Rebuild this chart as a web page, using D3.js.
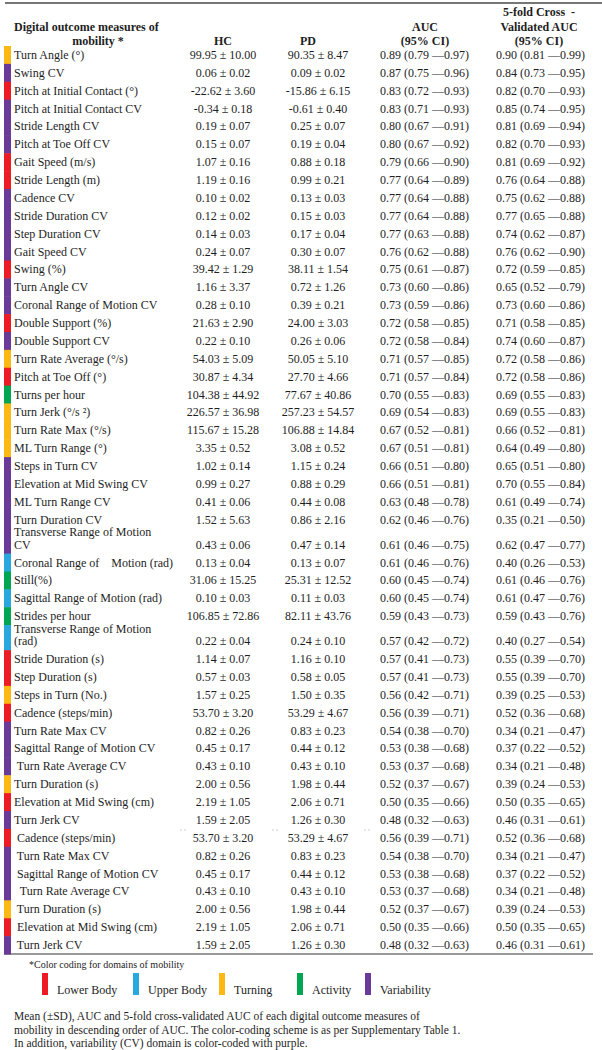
<!DOCTYPE html>
<html><head><meta charset="utf-8">
<script src="https://cdn.jsdelivr.net/npm/d3@7"></script>
<style>
body{margin:0;background:#fff;}
text{font-family:"Liberation Serif","Times New Roman",serif;fill:#1e1e1e;white-space:pre;}
</style></head>
<body><div id="chart"></div>
<script>
const labels = ["Turn Angle (°)","Swing CV","Pitch at Initial Contact (°)","Pitch at Initial Contact CV","Stride Length CV","Pitch at Toe Off CV","Gait Speed (m/s)","Stride Length (m)","Cadence CV","Stride Duration CV","Step Duration CV","Gait Speed CV","Swing (%)","Turn Angle CV","Coronal Range of Motion CV","Double Support (%)","Double Support CV","Turn Rate Average (°/s)","Pitch at Toe Off (°)","Turns per hour","Turn Jerk (°/s ²)","Turn Rate Max (°/s)","ML Turn Range (°)","Steps in Turn CV","Elevation at Mid Swing CV","ML Turn Range CV","Turn Duration CV","Transverse Range of Motion\nCV","Coronal Range of    Motion (rad)","Still(%)","Sagittal Range of Motion (rad)","Strides per hour","Transverse Range of Motion\n(rad)","Stride Duration (s)","Step Duration (s)","Steps in Turn (No.)","Cadence (steps/min)","Turn Rate Max CV","Sagittal Range of Motion CV"," Turn Rate Average CV","Turn Duration (s)","Elevation at Mid Swing (cm)","Turn Jerk CV"," Cadence (steps/min)"," Turn Rate Max CV"," Sagittal Range of Motion CV","  Turn Rate Average CV"," Turn Duration (s)"," Elevation at Mid Swing (cm)"," Turn Jerk CV"];
const domains = ["T","V","L","V","V","V","L","L","V","V","V","V","L","V","V","L","V","T","L","A","T","T","T","V","V","V","V","V","U","A","U","A","U","L","L","T","L","V","V","V","T","L","V","L","V","V","V","T","L","V"];
const hcMean = [99.95,0.06,-22.62,-0.34,0.19,0.15,1.07,1.19,0.10,0.12,0.14,0.24,39.42,1.16,0.28,21.63,0.22,54.03,30.87,104.38,226.57,115.67,3.35,1.02,0.99,0.41,1.52,0.43,0.13,31.06,0.10,106.85,0.22,1.14,0.57,1.57,53.70,0.82,0.45,0.43,2.00,2.19,1.59,53.70,0.82,0.45,0.43,2.00,2.19,1.59];
const hcSd = [10.00,0.02,3.60,0.18,0.07,0.07,0.16,0.16,0.02,0.02,0.03,0.07,1.29,3.37,0.10,2.90,0.10,5.09,4.34,44.92,36.98,15.28,0.52,0.14,0.27,0.06,5.63,0.06,0.04,15.25,0.03,72.86,0.04,0.07,0.03,0.25,3.20,0.26,0.17,0.10,0.56,1.05,2.05,3.20,0.26,0.17,0.10,0.56,1.05,2.05];
const pdMean = [90.35,0.09,-15.86,-0.61,0.25,0.19,0.88,0.99,0.13,0.15,0.17,0.30,38.11,0.72,0.39,24.00,0.26,50.05,27.70,77.67,257.23,106.88,3.08,1.15,0.88,0.44,0.86,0.47,0.13,25.31,0.11,82.11,0.24,1.16,0.58,1.50,53.29,0.83,0.44,0.43,1.98,2.06,1.26,53.29,0.83,0.44,0.43,1.98,2.06,1.26];
const pdSd = [8.47,0.02,6.15,0.40,0.07,0.04,0.18,0.21,0.03,0.03,0.04,0.07,1.54,1.26,0.21,3.03,0.06,5.10,4.66,40.86,54.57,14.84,0.52,0.24,0.29,0.08,2.16,0.14,0.07,12.52,0.03,43.76,0.10,0.10,0.05,0.35,4.67,0.23,0.12,0.10,0.44,0.71,0.30,4.67,0.23,0.12,0.10,0.44,0.71,0.30];
const auc = [0.89,0.87,0.83,0.83,0.80,0.80,0.79,0.77,0.77,0.77,0.77,0.76,0.75,0.73,0.73,0.72,0.72,0.71,0.71,0.70,0.69,0.67,0.67,0.66,0.66,0.63,0.62,0.61,0.61,0.60,0.60,0.59,0.57,0.57,0.57,0.56,0.56,0.54,0.53,0.53,0.52,0.50,0.48,0.56,0.54,0.53,0.53,0.52,0.50,0.48];
const aucLo = [0.79,0.75,0.72,0.71,0.67,0.67,0.66,0.64,0.64,0.64,0.63,0.62,0.61,0.60,0.59,0.58,0.58,0.57,0.57,0.55,0.54,0.52,0.51,0.51,0.51,0.48,0.46,0.46,0.46,0.45,0.45,0.43,0.42,0.41,0.41,0.42,0.39,0.38,0.38,0.37,0.37,0.35,0.32,0.39,0.38,0.38,0.37,0.37,0.35,0.32];
const aucHi = [0.97,0.96,0.93,0.93,0.91,0.92,0.90,0.89,0.88,0.88,0.88,0.88,0.87,0.86,0.86,0.85,0.84,0.85,0.84,0.83,0.83,0.81,0.81,0.80,0.81,0.78,0.76,0.75,0.76,0.74,0.74,0.73,0.72,0.73,0.73,0.71,0.71,0.70,0.68,0.68,0.67,0.66,0.63,0.71,0.70,0.68,0.68,0.67,0.66,0.63];
const cvAuc = [0.90,0.84,0.82,0.85,0.81,0.82,0.81,0.76,0.75,0.77,0.74,0.76,0.72,0.65,0.73,0.71,0.74,0.72,0.72,0.69,0.69,0.66,0.64,0.65,0.70,0.61,0.35,0.62,0.40,0.61,0.61,0.59,0.40,0.55,0.55,0.39,0.52,0.34,0.37,0.34,0.39,0.50,0.46,0.52,0.34,0.37,0.34,0.39,0.50,0.46];
const cvLo = [0.81,0.73,0.70,0.74,0.69,0.70,0.69,0.64,0.62,0.65,0.62,0.62,0.59,0.52,0.60,0.58,0.60,0.58,0.58,0.55,0.55,0.52,0.49,0.51,0.55,0.49,0.21,0.47,0.26,0.46,0.47,0.43,0.27,0.39,0.39,0.25,0.36,0.21,0.22,0.21,0.24,0.35,0.31,0.36,0.21,0.22,0.21,0.24,0.35,0.31];
const cvHi = [0.99,0.95,0.93,0.95,0.94,0.93,0.92,0.88,0.88,0.88,0.87,0.90,0.85,0.79,0.86,0.85,0.87,0.86,0.86,0.83,0.83,0.81,0.80,0.80,0.84,0.74,0.50,0.77,0.53,0.76,0.76,0.76,0.54,0.70,0.70,0.53,0.68,0.47,0.52,0.48,0.53,0.65,0.61,0.68,0.47,0.52,0.48,0.53,0.65,0.61];
const domainKeys = ["L","U","T","A","V"];
const domainNames = ["Lower Body","Upper Body","Turning","Activity","Variability"];
const domainColors = ["#ED1C24","#29A8E0","#FDB913","#00A651","#6A3A98"];
const headerCols = ["HC","PD"];

const W = 602, H = 1050, FS = 12;
const svg = d3.select("#chart").append("svg").attr("width", W).attr("height", H);
const color = d3.scaleOrdinal().domain(domainKeys).range(domainColors);
const f2 = v => v.toFixed(2);

// row layout (two-line rows get taller slots)
const units = labels.map(l => l.includes("\n") ? 1.4 : 1);
const starts = d3.cumsum([0, ...units]);
const y = d3.scaleLinear().domain([0, d3.sum(units)]).range([46, 954]);
const rowH = y(1) - y(0);
const rows = labels.map((l, i) => ({
  i, lines: l.split("\n"), dom: domains[i],
  top: y(starts[i]), bot: y(starts[i] + units[i])
}));

// column positions
const col = {label: 14, hc: 223, pd: 318, auc: 380, cv: 496};

// rules
svg.append("line").attr("x1", 5).attr("x2", 602).attr("y1", 3).attr("y2", 3)
  .attr("stroke", "#777").attr("stroke-width", 2);
svg.append("line").attr("x1", 4).attr("x2", 593).attr("y1", 954).attr("y2", 954)
  .attr("stroke", "#777").attr("stroke-width", 1.5);

// header
const hdr = svg.append("g").attr("font-size", FS).attr("font-weight", "bold");
const H1 = [
  {t: "Digital outcome measures of", x: 14, y: 31, a: "start"},
  {t: "mobility *", x: 98, y: 45, a: "middle"},
  {t: headerCols[0], x: 223, y: 45, a: "middle"},
  {t: headerCols[1], x: 308, y: 45, a: "middle"},
  {t: "AUC", x: 425, y: 31, a: "middle"},
  {t: "(95% CI)", x: 425, y: 45, a: "middle"},
  {t: "5-fold Cross  -", x: 539, y: 16, a: "middle"},
  {t: "Validated AUC", x: 539, y: 31, a: "middle"},
  {t: "(95% CI)", x: 539, y: 45, a: "middle"}
];
hdr.selectAll("text").data(H1).join("text")
  .attr("x", d => d.x).attr("y", d => d.y).attr("text-anchor", d => d.a)
  .attr("font-weight", "bold").text(d => d.t);

// color bars
svg.append("g").selectAll("rect").data(rows).join("rect")
  .attr("x", 4).attr("width", 7)
  .attr("y", d => d.top).attr("height", d => d.bot - d.top + 0.5)
  .attr("fill", d => color(d.dom));

// rows text
const g = svg.append("g").attr("font-size", FS);
rows.forEach(r => {
  const vy = r.bot - rowH / 2 + 4;
  r.lines.forEach((ln, k) => {
    const ly = vy - (r.lines.length - 1 - k) * 12.5;
    g.append("text").attr("x", col.label).attr("y", ly).text(ln);
  });
  const i = r.i;
  g.append("text").attr("x", col.hc).attr("y", vy).attr("text-anchor", "middle")
    .text(`${f2(hcMean[i])} ± ${f2(hcSd[i])}`);
  g.append("text").attr("x", col.pd).attr("y", vy).attr("text-anchor", "middle")
    .text(`${f2(pdMean[i])} ± ${f2(pdSd[i])}`);
  g.append("text").attr("x", col.auc).attr("y", vy)
    .text(`${f2(auc[i])} (${f2(aucLo[i])} —${f2(aucHi[i])})`);
  g.append("text").attr("x", col.cv).attr("y", vy)
    .text(`${f2(cvAuc[i])} (${f2(cvLo[i])} —${f2(cvHi[i])})`);
});

// faint dot marks between rows 43 and 44
const dotY = y(starts[43]) + 1;
[183, 275, 367].forEach(x => {
  [-2, 2].forEach(dx => svg.append("circle").attr("cx", x + dx).attr("cy", dotY).attr("r", 0.6).attr("fill", "#aaa"));
});

// legend
svg.append("text").attr("x", 29).attr("y", 968).attr("font-size", 10).text("*Color coding for domains of mobility");
const legX = [42, 133, 219, 297, 365];
const lg = svg.append("g").attr("font-size", FS);
domainKeys.forEach((k, j) => {
  lg.append("rect").attr("x", legX[j]).attr("y", 973).attr("width", 6).attr("height", 22).attr("fill", color(k));
  lg.append("text").attr("x", legX[j] + 15).attr("y", 994).text(domainNames[j]);
});

// caption
const cap = ["Mean (±SD), AUC and 5-fold cross-validated AUC of each digital outcome measures of",
  "mobility in descending order of AUC. The color-coding scheme is as per Supplementary Table 1.",
  "In addition, variability (CV) domain is color-coded with purple."];
svg.append("g").attr("font-size", 11.5).selectAll("text").data(cap).join("text")
  .attr("x", 14).attr("y", (d, k) => 1020 + k * 13.5).text(d => d);
</script></body></html>
